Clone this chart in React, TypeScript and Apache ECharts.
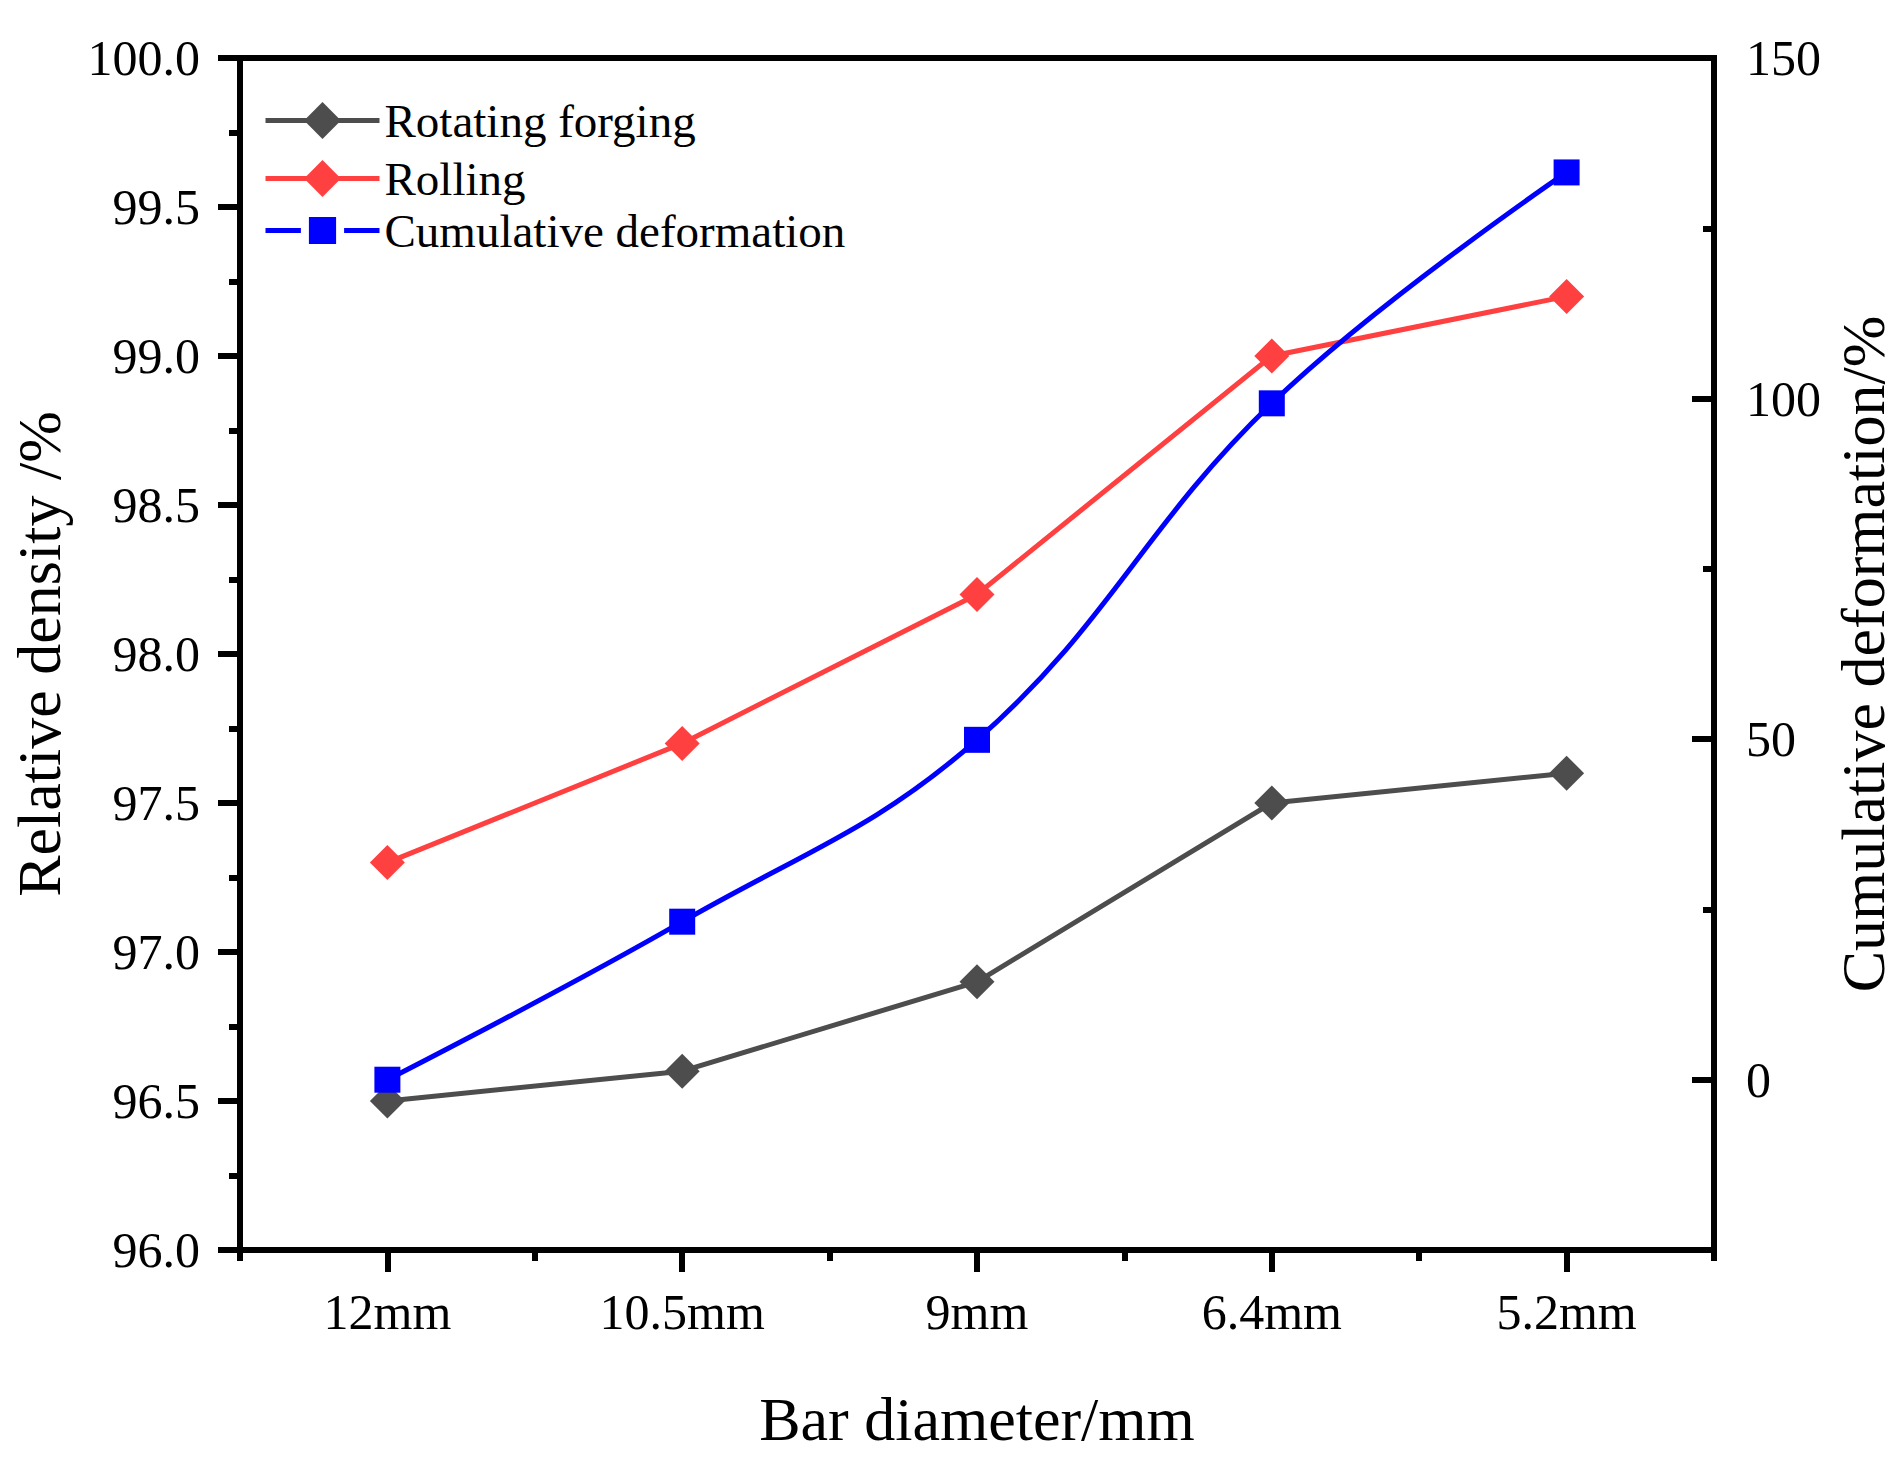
import React, { useEffect, useRef } from 'react';
import * as echarts from 'echarts';

const categories = ['12mm', '10.5mm', '9mm', '6.4mm', '5.2mm'];
const rotatingForging = [96.5, 96.6, 96.9, 97.5, 97.6];
const rolling = [97.3, 97.7, 98.2, 99.0, 99.2];
const cumulativeDeformation = [0, 23.2, 49.9, 99.3, 133.2];
const rightMajorTicks = [0, 50, 100, 150];
const rightMinorTicks = [25, 75, 125];

const FONT = "'Times New Roman', 'Liberation Serif', serif";
const AXIS = { color: '#000', width: 6, cap: 'square' };
const TICK = { color: '#000', width: 6 };

const App = () => {
  const chartRef = useRef(null);

  useEffect(() => {
    document.body.style.margin = '0';
    const myChart = echarts.init(chartRef.current, null, { renderer: 'svg' });

    const legendBase = {
      left: 263,
      padding: 0,
      itemWidth: 114,
      orient: 'vertical',
      lineStyle: { width: 5 },
      textStyle: { fontFamily: FONT, fontSize: 47, color: '#000' },
    };

    const option = {
      animation: false,
      backgroundColor: '#fff',
      textStyle: { fontFamily: FONT },
      grid: { left: 236, right: 190, top: 58, bottom: 212 },
      legend: [
        { ...legendBase, top: 97, itemHeight: 46, data: ['Rotating forging'] },
        { ...legendBase, top: 155, itemHeight: 46, data: ['Rolling'] },
        {
          ...legendBase,
          top: 207,
          itemHeight: 44,
          itemStyle: { borderColor: '#fff', borderWidth: 8 },
          data: ['Cumulative deformation'],
        },
      ],
      xAxis: [
        {
          type: 'category',
          data: categories,
          position: 'bottom',
          boundaryGap: true,
          axisLine: { show: true, onZero: false, lineStyle: AXIS },
          axisTick: { show: true, interval: 0, alignWithLabel: true, length: 22, lineStyle: TICK },
          axisLabel: { fontFamily: FONT, fontSize: 50, color: '#000', margin: 37, interval: 0 },
          name: 'Bar diameter/mm',
          nameLocation: 'middle',
          nameGap: 138,
          nameTextStyle: { fontFamily: FONT, fontSize: 62, color: '#000' },
        },
        {
          type: 'category',
          data: categories,
          position: 'bottom',
          boundaryGap: true,
          axisLine: { show: false, onZero: false },
          axisTick: { show: true, interval: 0, length: 11, lineStyle: TICK },
          axisLabel: { show: false },
        },
        {
          type: 'category',
          data: categories,
          position: 'top',
          axisLine: { show: true, onZero: false, lineStyle: AXIS },
          axisTick: { show: false },
          axisLabel: { show: false },
        },
      ],
      yAxis: [
        {
          type: 'value',
          position: 'left',
          min: 96,
          max: 100,
          interval: 0.5,
          axisLine: { show: true, onZero: false, lineStyle: AXIS },
          axisTick: { show: true, length: 22, lineStyle: TICK },
          minorTick: { show: true, splitNumber: 2, length: 11, lineStyle: TICK },
          splitLine: { show: false },
          axisLabel: {
            fontFamily: FONT,
            fontSize: 50,
            color: '#000',
            margin: 40,
            formatter: (v: number) => v.toFixed(1),
          },
          name: 'Relative density /%',
          nameLocation: 'middle',
          nameGap: 170,
          nameTextStyle: { fontFamily: FONT, fontSize: 62, color: '#000' },
        },
        {
          type: 'value',
          position: 'right',
          min: -25,
          max: 150,
          interval: 25,
          axisLine: { show: true, onZero: false, lineStyle: AXIS },
          axisTick: {
            show: true,
            inside: true,
            length: 22,
            customValues: rightMajorTicks,
            lineStyle: TICK,
          },
          splitLine: { show: false },
          axisLabel: {
            fontFamily: FONT,
            fontSize: 50,
            color: '#000',
            margin: 32,
            customValues: rightMajorTicks,
          },
          name: 'Cumulative deformation/%',
          nameLocation: 'middle',
          nameGap: 115,
          nameTextStyle: { fontFamily: FONT, fontSize: 62, color: '#000' },
        },
        {
          type: 'value',
          position: 'right',
          min: -25,
          max: 150,
          interval: 25,
          axisLine: { show: false, onZero: false },
          axisTick: {
            show: true,
            inside: true,
            length: 11,
            customValues: rightMinorTicks,
            lineStyle: TICK,
          },
          splitLine: { show: false },
          axisLabel: { show: false },
        },
      ],
      series: [
        {
          name: 'Rotating forging',
          type: 'line',
          xAxisIndex: 0,
          yAxisIndex: 0,
          data: rotatingForging,
          symbol: 'diamond',
          symbolSize: 35,
          color: '#4d4d4d',
          lineStyle: { width: 5 },
        },
        {
          name: 'Rolling',
          type: 'line',
          xAxisIndex: 0,
          yAxisIndex: 0,
          data: rolling,
          symbol: 'diamond',
          symbolSize: 35,
          color: '#ff4040',
          lineStyle: { width: 5 },
        },
        {
          name: 'Cumulative deformation',
          type: 'line',
          xAxisIndex: 0,
          yAxisIndex: 1,
          data: cumulativeDeformation,
          symbol: 'rect',
          symbolSize: 26,
          smooth: 0.4,
          color: '#0000ff',
          lineStyle: { width: 5 },
        },
      ],
    };

    myChart.setOption(option);

    return () => {
      myChart.dispose();
    };
  }, []);

  return <div ref={chartRef} style={{ width: '1904px', height: '1462px' }} />;
};

export default App;
